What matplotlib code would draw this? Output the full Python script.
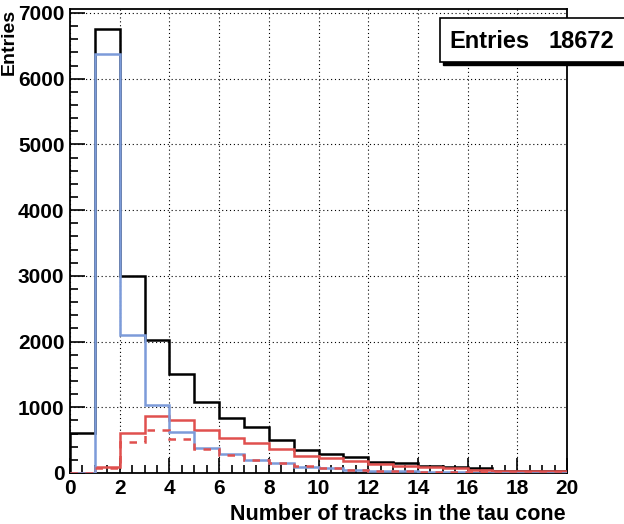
import numpy as np
import matplotlib.pyplot as plt
from matplotlib.patches import Rectangle
from matplotlib.ticker import MultipleLocator

plt.rcParams.update({
    "font.family": ["Liberation Sans", "DejaVu Sans"],
    "font.weight": "bold",
})

# ---- data --------------------------------------------------------------
edges = np.arange(0, 21)
total = [605, 6750, 3000, 2030, 1505, 1085, 840, 695, 505, 350,
         290, 240, 165, 147, 112, 96, 76, 38, 32, 28]
red_solid = [0, 90, 610, 860, 800, 648, 528, 455, 360, 262,
             232, 190, 130, 112, 90, 70, 48, 32, 30, 26]
red_dash = [0, 80, 465, 648, 510, 358, 272, 202, 150, 100,
            78, 48, 36, 26, 12, 10, 8, 6, 5, 4]
blue = [0, 6380, 2100, 1040, 622, 382, 290, 202, 152, 90,
        76, 45, 35, 25, 10, 9, 7, 5, 4, 4]
n_entries = 18672

BLUE = "#7c9bd9"
RED = "#e0504e"

W, H = 624, 524
fig = plt.figure(figsize=(W / 100, H / 100), dpi=100)
ax = fig.add_axes([70 / W, 1 - 473 / H, 497 / W, 464 / H])

ax.stairs(total, edges, color="black", lw=1.8, zorder=3)
ax.stairs(red_solid, edges, color=RED, lw=1.8, zorder=4)
ax.stairs(blue, edges, color=BLUE, lw=1.8, zorder=5)
ax.stairs(red_dash, edges, color=RED, lw=1.8, ls=(0, (3, 3)), zorder=6)

ax.set_xlim(0, 20)
ax.set_ylim(0, 7060)
ax.xaxis.set_major_locator(MultipleLocator(2))
ax.xaxis.set_minor_locator(MultipleLocator(0.5))
ax.yaxis.set_major_locator(MultipleLocator(1000))
ax.yaxis.set_minor_locator(MultipleLocator(200))

ax.grid(True, which="major", color="black", lw=0.8, ls=(0, (1, 2.5)), zorder=1)
ax.tick_params(which="both", direction="in", top=False, right=False,
               labelsize=15, width=1.2)
ax.tick_params(which="major", length=11, pad=4)
ax.tick_params(which="minor", length=6)
for lab in ax.get_xticklabels() + ax.get_yticklabels():
    lab.set_fontweight("bold")
for s in ax.spines.values():
    s.set_linewidth(1.3)

fig.text(566 / W, 1 - 520 / H, "Number of tracks in the tau cone",
         ha="right", va="baseline", fontsize=15.5, fontweight="bold")
fig.text(1 / W, 1 - 9 / H, "Entries", rotation=90, ha="left", va="top",
         fontsize=14, fontweight="bold")

# stats box with shadow
bx, by, bw, bh = 440, 18, 190, 44
fig.patches.append(Rectangle(((bx + 3) / W, 1 - (by + bh + 3) / H), bw / W, bh / H,
                             transform=fig.transFigure, facecolor="black",
                             edgecolor="black", zorder=10))
fig.patches.append(Rectangle((bx / W, 1 - (by + bh) / H), bw / W, bh / H,
                             transform=fig.transFigure, facecolor="white",
                             edgecolor="black", lw=1.2, zorder=11))
fig.text(449 / W, 1 - 42 / H, "Entries", ha="left", va="center",
         fontsize=17, fontweight="bold", zorder=12)
fig.text(614 / W, 1 - 42 / H, str(n_entries), ha="right", va="center",
         fontsize=17, fontweight="bold", zorder=12)

fig.savefig("out.png", dpi=100, facecolor="white")
